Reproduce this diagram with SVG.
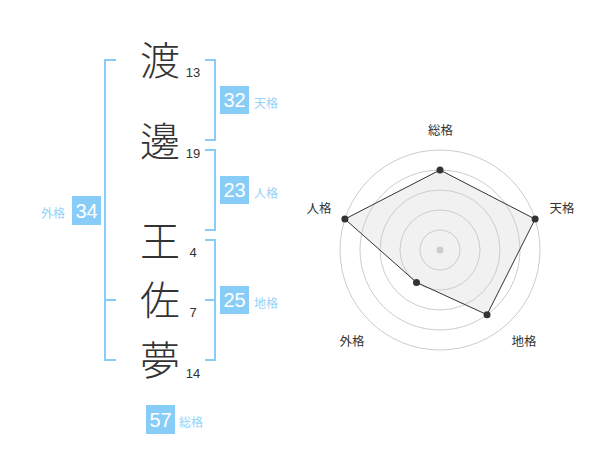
<svg xmlns="http://www.w3.org/2000/svg" width="600" height="470" viewBox="0 0 600 470">
<style>
.ch{font-family:"Noto Sans CJK JP","Noto Sans CJK SC",sans-serif;font-size:40px;font-weight:300;fill:#333;text-anchor:middle}
.num{font-family:"Liberation Sans",Arial,sans-serif;font-size:13px;fill:#333;text-anchor:middle}
.br{fill:none;stroke:#88ccf8;stroke-width:2}
.box{fill:#88ccf8}
.bn{font-family:"Liberation Sans",Arial,sans-serif;font-size:20px;fill:#fff;text-anchor:middle}
.bl{font-family:"Noto Sans CJK JP","Noto Sans CJK SC",sans-serif;font-size:12px;fill:#96d2f8}
.ring{fill:none;stroke:#cccccc;stroke-width:1}
.rl{font-family:"Noto Sans CJK JP","Noto Sans CJK SC",sans-serif;font-size:12.5px;fill:#333;text-anchor:middle}
.pt{fill:#333}
</style>
<rect width="600" height="470" fill="#fff"/>
<g id="chars">
<g id="c1"><text class="ch" x="160" y="75">渡</text><text class="num" x="193" y="77">13</text></g>
<g id="c2"><text class="ch" x="160" y="156">邊</text><text class="num" x="193" y="158">19</text></g>
<g id="c3"><text class="ch" x="160" y="256">王</text><text class="num" x="193" y="257">4</text></g>
<g id="c4"><text class="ch" x="160" y="315">佐</text><text class="num" x="193" y="317">7</text></g>
<g id="c5"><text class="ch" x="160" y="375">夢</text><text class="num" x="193" y="378">14</text></g>
</g>
<g id="connectors">
<path class="br" d="M116,60 H105 V360 H116 M105,300 H116"/>
<path class="br" d="M205,60 H215 V140 H205"/>
<path class="br" d="M205,150 H215 V230 H205"/>
<path class="br" d="M205,240 H215 V360 H205 M205,300 H215"/>
</g>
<g id="tenkaku"><rect class="box" x="220" y="86" width="29" height="28"/><text class="bn" x="234.5" y="107">32</text><text class="bl" x="254" y="108">天格</text></g>
<g id="jinkaku"><rect class="box" x="220" y="176" width="29" height="28"/><text class="bn" x="234.5" y="197">23</text><text class="bl" x="254" y="198">人格</text></g>
<g id="chikaku"><rect class="box" x="220" y="286" width="29" height="28"/><text class="bn" x="234.5" y="307">25</text><text class="bl" x="254" y="308">地格</text></g>
<g id="gaikaku"><rect class="box" x="72" y="196" width="29" height="29"/><text class="bn" x="86.5" y="217.5">34</text><text class="bl" x="41" y="218">外格</text></g>
<g id="soukaku"><rect class="box" x="146" y="405" width="29" height="29"/><text class="bn" x="160.5" y="426.5">57</text><text class="bl" x="179" y="427">総格</text></g>
<g id="radar">
<polygon points="440,170 535.1,219.1 487,314.7 416.5,282.4 344.9,219.1" fill="#e8e8e8" fill-opacity="0.6"/>
<circle class="ring" cx="440" cy="250" r="100"/>
<circle class="ring" cx="440" cy="250" r="80"/>
<circle class="ring" cx="440" cy="250" r="60"/>
<circle class="ring" cx="440" cy="250" r="40"/>
<circle class="ring" cx="440" cy="250" r="20"/>
<circle cx="440" cy="250" r="3.5" fill="#cccccc"/>
<polygon points="440,170 535.1,219.1 487,314.7 416.5,282.4 344.9,219.1" fill="none" stroke="#333" stroke-width="1"/>
<circle class="pt" cx="440" cy="170" r="3.5"/>
<circle class="pt" cx="535.1" cy="219.1" r="3.5"/>
<circle class="pt" cx="487" cy="314.7" r="3.5"/>
<circle class="pt" cx="416.5" cy="282.4" r="3.5"/>
<circle class="pt" cx="344.9" cy="219.1" r="3.5"/>
<text class="rl" x="440.5" y="135">総格</text>
<text class="rl" x="562" y="213">天格</text>
<text class="rl" x="524" y="346">地格</text>
<text class="rl" x="352" y="346">外格</text>
<text class="rl" x="319" y="213">人格</text>
</g>
</svg>
